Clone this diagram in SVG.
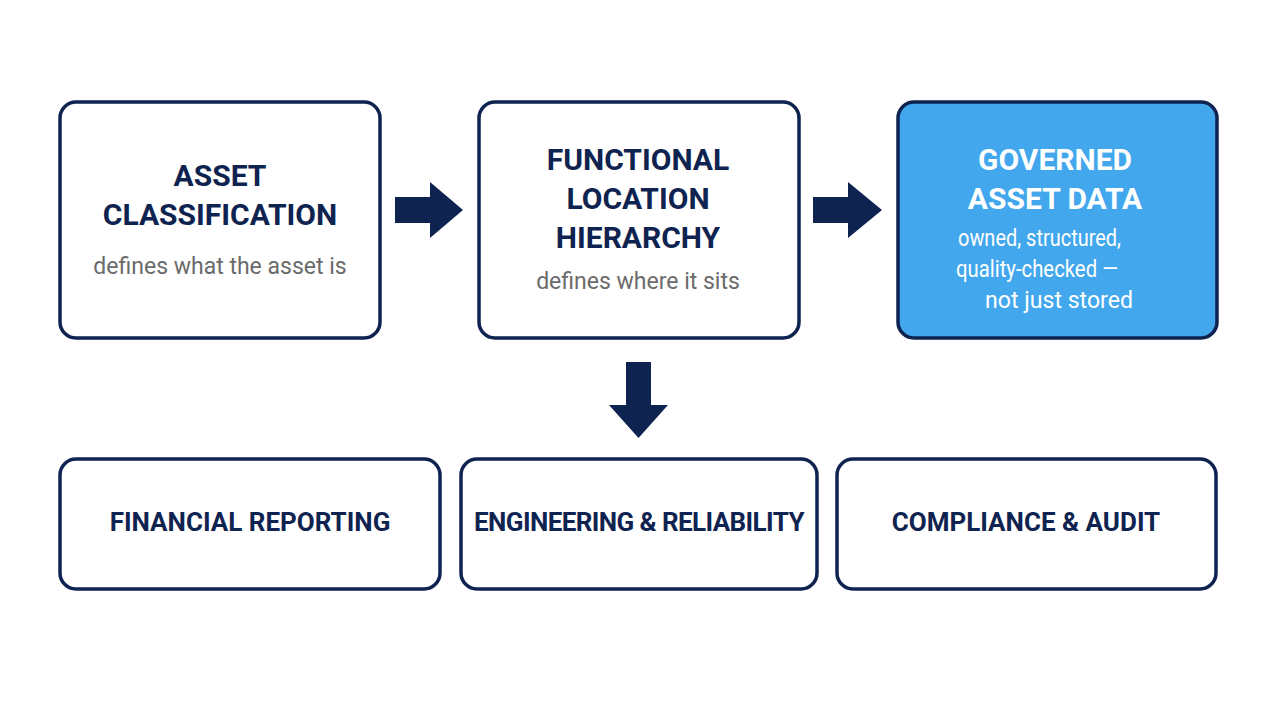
<svg xmlns="http://www.w3.org/2000/svg" width="1280" height="720" viewBox="0 0 1280 720">
<style>
.box{fill:#ffffff;stroke:#0f2350;stroke-width:3.5}
.hl{fill:#42a7ec;stroke:#0f2350;stroke-width:3.5}
.t{font-family:Roboto,"Liberation Sans",sans-serif;font-weight:700;font-size:30px;fill:#0f2350;text-anchor:middle}
.tw{font-family:Roboto,"Liberation Sans",sans-serif;font-weight:700;font-size:30px;fill:#ffffff;text-anchor:middle}
.s{font-family:Roboto,"Liberation Sans",sans-serif;font-size:23px;fill:#6b6b6b;text-anchor:middle}
.sw{font-family:Roboto,"Liberation Sans",sans-serif;font-size:23px;fill:#ffffff;text-anchor:middle}
.b{font-family:Roboto,"Liberation Sans",sans-serif;font-weight:700;font-size:26px;fill:#0f2350;text-anchor:middle}
.arr{fill:#0f2350}
</style>
<rect width="1280" height="720" fill="#ffffff"/>
<g id="connectors">
<polygon class="arr" points="395,197 430,197 430,182 463,210 430,238 430,223 395,223"/>
<polygon class="arr" points="813,197 848,197 848,182 882,210 848,238 848,223 813,223"/>
<polygon class="arr" points="626,362 651,362 651,405 668,405 638.5,438 609,405 626,405"/>
</g>
<g id="asset-classification">
<rect class="box" x="60" y="102" width="320" height="236" rx="16"/>
<text class="t" x="220" y="186">ASSET</text>
<text class="t" x="220" y="225">CLASSIFICATION</text>
<text class="s" x="220" y="274">defines what the asset is</text>
</g>
<g id="functional-location">
<rect class="box" x="479" y="102" width="320" height="236" rx="16"/>
<text class="t" x="638" y="170">FUNCTIONAL</text>
<text class="t" x="638" y="209">LOCATION</text>
<text class="t" x="638" y="248">HIERARCHY</text>
<text class="s" x="638" y="289">defines where it sits</text>
</g>
<g id="governed-asset-data">
<rect class="hl" x="898" y="102" width="319" height="236" rx="16"/>
<text class="tw" x="1055" y="170">GOVERNED</text>
<text class="tw" x="1055" y="209">ASSET DATA</text>
<text class="sw" x="1039.5" y="246" textLength="163" lengthAdjust="spacingAndGlyphs">owned, structured,</text>
<text class="sw" x="1037" y="277" textLength="162" lengthAdjust="spacingAndGlyphs">quality-checked —</text>
<text class="sw" x="1059" y="308" textLength="148" lengthAdjust="spacingAndGlyphs">not just stored</text>
</g>
<g id="financial-reporting">
<rect class="box" x="60" y="459" width="380" height="130" rx="16"/>
<text class="b" x="250" y="531">FINANCIAL REPORTING</text>
</g>
<g id="engineering-reliability">
<rect class="box" x="461" y="459" width="356" height="130" rx="16"/>
<text class="b" x="639" y="531" style="letter-spacing:-0.6px">ENGINEERING &amp; RELIABILITY</text>
</g>
<g id="compliance-audit">
<rect class="box" x="837" y="459" width="379" height="130" rx="16"/>
<text class="b" x="1026" y="531">COMPLIANCE &amp; AUDIT</text>
</g>
</svg>
